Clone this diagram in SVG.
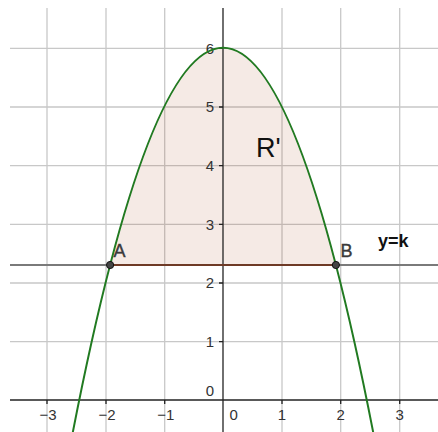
<svg xmlns="http://www.w3.org/2000/svg" width="438" height="432" viewBox="0 0 438 432">
<style>
.grid{stroke:#c8c8c8;stroke-width:1.3;fill:none}
.axis{stroke:#222;stroke-width:1.3;fill:none}
.tick{font-family:"Liberation Sans",Arial,sans-serif;font-size:15px;fill:#333}
.lbl{font-family:"Liberation Sans",Arial,sans-serif;font-size:18px;fill:#3a3a3a;stroke:#3a3a3a;stroke-width:0.4}
</style>
<rect width="438" height="432" fill="#fff"/>
<g id="grid" class="grid">
<path d="M47,8V432M106,8V432M164.7,8V432M282,8V432M340.7,8V432M399.7,8V432"/>
<path d="M10,48.3H438M10,107H438M10,165.7H438M10,224.4H438M10,283H438M10,341.7H438"/>
</g>
<g id="region-R">
<path d="M110.1,265 Q223,-169.4 335.9,265 Z" fill="#993300" fill-opacity="0.1"/>
</g>
<g id="axes" class="axis">
<path d="M223,8V432"/>
<path d="M10,400H438"/>
<path d="M219,48.3H223M219,107H223M219,165.7H223M219,224.4H223M219,283H223M219,341.7H223"/>
<path d="M47,400V404M106,400V404M164.7,400V404M282,400V404M340.7,400V404M399.7,400V404"/>
</g>
<g id="tick-labels" class="tick">
<text x="214" y="53.5" text-anchor="end">6</text>
<text x="214" y="112.3" text-anchor="end">5</text>
<text x="214" y="171" text-anchor="end">4</text>
<text x="214" y="229.7" text-anchor="end">3</text>
<text x="214" y="288.3" text-anchor="end">2</text>
<text x="214" y="347" text-anchor="end">1</text>
<text x="214" y="395.5" text-anchor="end">0</text>
<text x="48" y="419.5" text-anchor="middle">−3</text>
<text x="107" y="419.5" text-anchor="middle">−2</text>
<text x="165.7" y="419.5" text-anchor="middle">−1</text>
<text x="233.7" y="419.5" text-anchor="middle">0</text>
<text x="282" y="419.5" text-anchor="middle">1</text>
<text x="340.7" y="419.5" text-anchor="middle">2</text>
<text x="399.7" y="419.5" text-anchor="middle">3</text>
</g>
<g id="line-y-k">
<path d="M10,265H438" stroke="#7a7a7a" stroke-width="2"/>
<path d="M110.1,265H335.9" stroke="#6e3a26" stroke-width="2"/>
<text x="378" y="246.5" font-family="Liberation Sans,Arial,sans-serif" font-size="18" font-weight="bold" fill="#111">y=k</text>
</g>
<g id="parabola">
<path d="M71.3,440 Q223,-344.4 374.7,440" fill="none" stroke="#217a21" stroke-width="2"/>
</g>
<g id="label-R">
<text x="256" y="157" font-family="Liberation Sans,Arial,sans-serif" font-size="27" fill="#111">R'</text>
</g>
<g id="point-A">
<circle cx="110.1" cy="265" r="3.6" fill="#444" stroke="#111" stroke-width="1"/>
<text class="lbl" x="113.5" y="257">A</text>
</g>
<g id="point-B">
<circle cx="335.9" cy="265" r="3.6" fill="#444" stroke="#111" stroke-width="1"/>
<text class="lbl" x="340.5" y="257">B</text>
</g>
</svg>
